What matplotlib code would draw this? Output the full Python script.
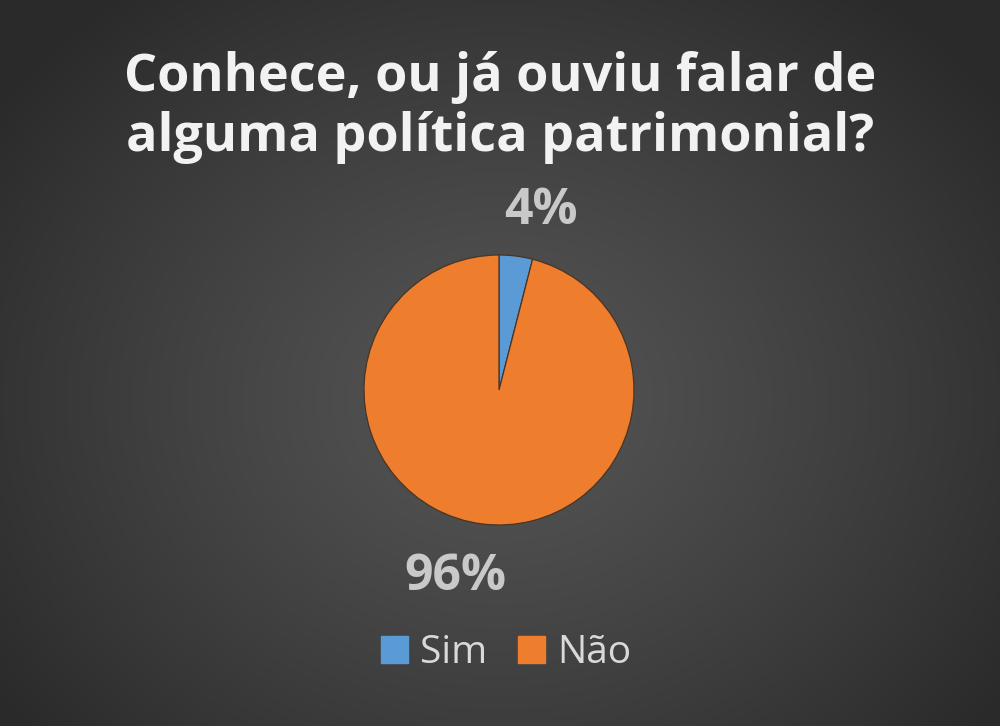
import numpy as np
import matplotlib
matplotlib.use("Agg")
import matplotlib.pyplot as plt

title_lines = ["Conhece, ou já ouviu falar de", "alguma política patrimonial?"]
categories = ["Sim", "Não"]
values = [4, 96]
colors = ["#5b9bd5", "#ee7d2e"]

W, H = 1000, 726
fig = plt.figure(figsize=(W / 100, H / 100), dpi=100)

# background radial gradient
bg = fig.add_axes([0, 0, 1, 1])
yy, xx = np.mgrid[0:H, 0:W]
r = np.sqrt(((xx - 500) / 620.0) ** 2 + ((yy - 400) / 520.0) ** 2)
r = np.clip(r, 0, 1)
c0, c1 = 0x55 / 255, 0x2a / 255
img = c0 + (c1 - c0) * r ** 1.2
bg.imshow(np.dstack([img, img, img]), extent=[0, W, H, 0], aspect="auto")
bg.set_xlim(0, W)
bg.set_ylim(H, 0)
bg.axis("off")

# title
for i, line in enumerate(title_lines):
    fig.text(0.5, 1 - (77 + 60 * i) / H, line, ha="center", va="center",
             fontsize=37.5, fontweight="bold", color="#f2f2f2", family="Open Sans")

# pie
R = 135
cx, cy = 499, 390
half = 1.6 * R
ax = fig.add_axes([(cx - half) / W, (H - cy - half) / H, 2 * half / W, 2 * half / H])
wedges, _ = ax.pie(values, colors=colors, startangle=90, counterclock=False,
                   wedgeprops=dict(edgecolor="#4a3424", linewidth=0.9))
ax.set_xlim(-1.6, 1.6)
ax.set_ylim(-1.6, 1.6)
ax.set_aspect("equal")
ax.axis("off")

# percentage labels outside
dists = [1.36, 1.42]
for w, v, d in zip(wedges, values, dists):
    ang = np.deg2rad((w.theta1 + w.theta2) / 2 - 6)
    ax.text(d * np.cos(ang), d * np.sin(ang), f"{v}%", ha="center", va="center",
            fontsize=36, fontweight="bold", color="#c9c9c9", family="Open Sans")

# legend
handles = [plt.Rectangle((0, 0), 1, 1, color=c) for c in colors]
fig.legend(handles, categories, loc="center", bbox_to_anchor=(0.506, 1 - 653 / H),
           ncol=2, frameon=False, labelcolor="#d9d9d9",
           handlelength=0.7, handleheight=0.7, handletextpad=0.3, columnspacing=0.8,
           prop=dict(family="Open Sans", size=28))

fig.savefig("out.png", dpi=100)
